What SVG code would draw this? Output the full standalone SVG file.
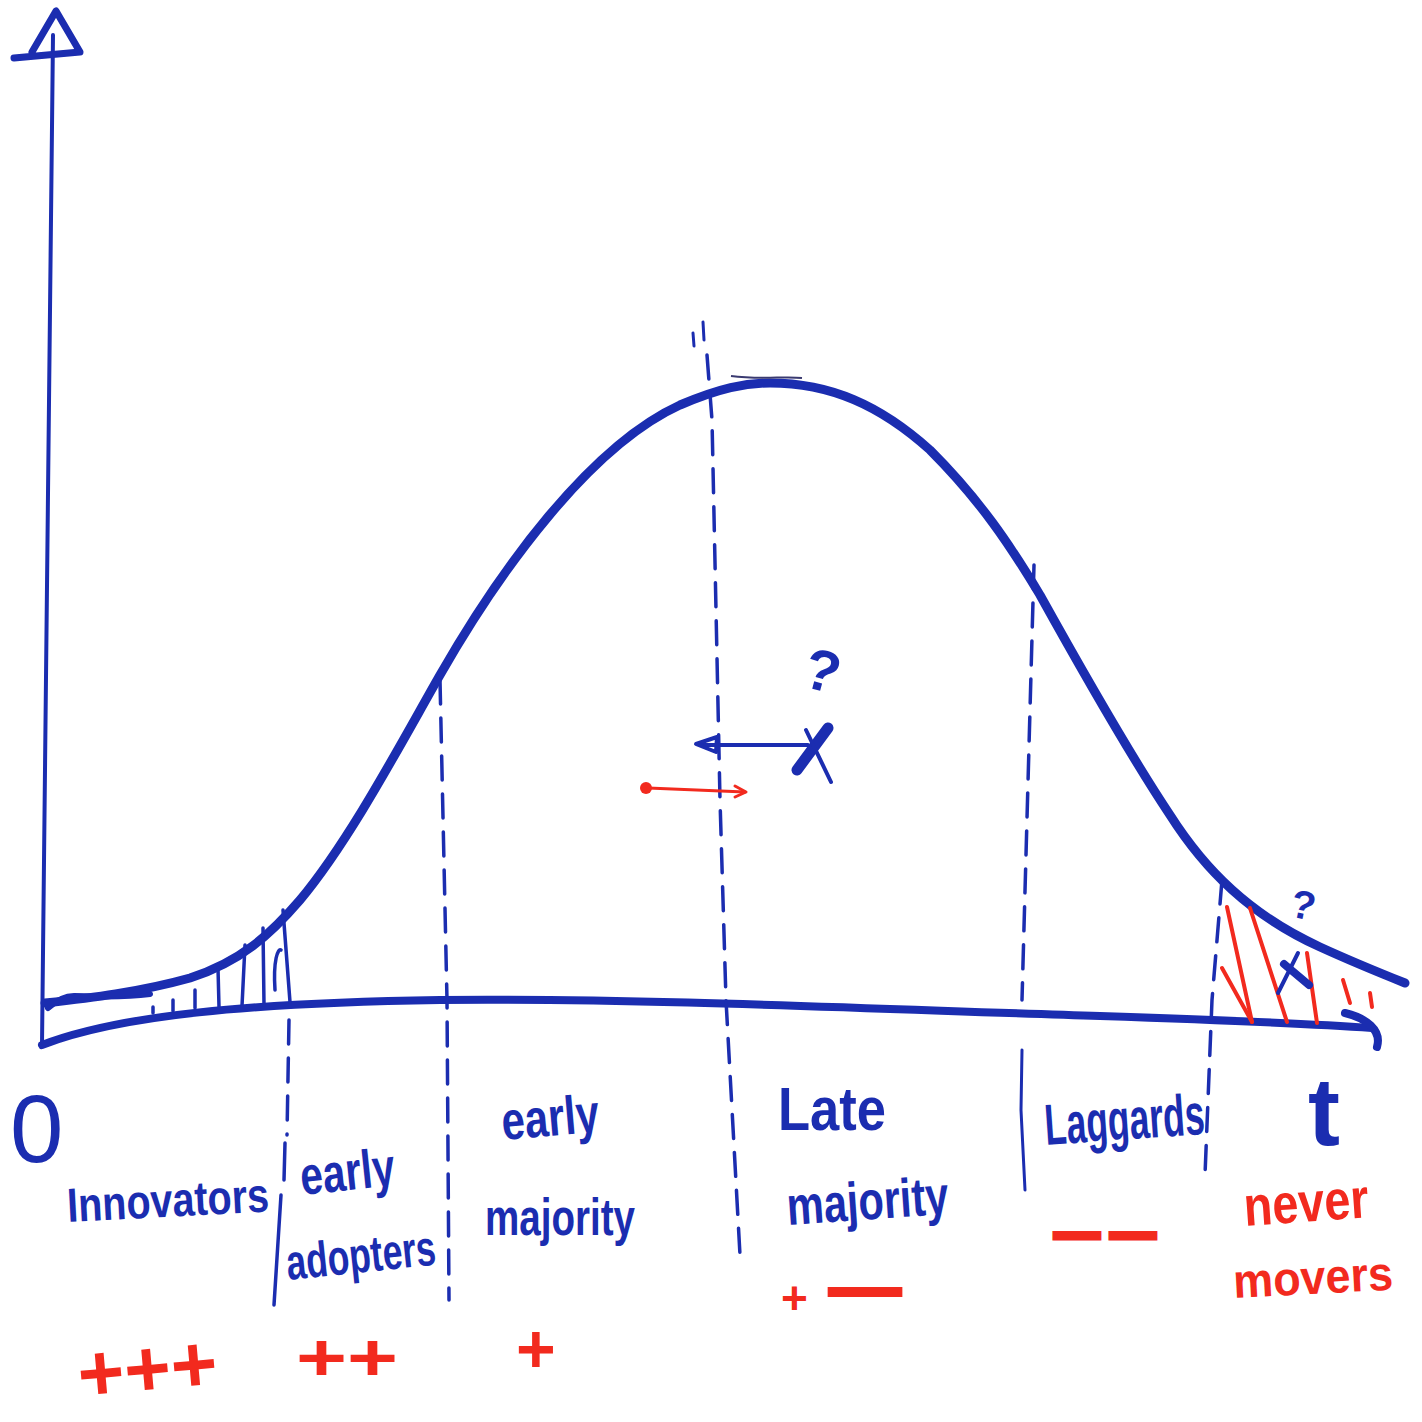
<svg xmlns="http://www.w3.org/2000/svg" width="1422" height="1422" viewBox="0 0 1422 1422">
<style>
.b{stroke:#1b2db0;fill:none;stroke-linecap:round;stroke-linejoin:round}
.r{stroke:#f22a1e;fill:none;stroke-linecap:round;stroke-linejoin:round}
.dash{stroke:#1b2db0;fill:none;stroke-width:3.5;stroke-dasharray:24 14;stroke-linecap:round}
.tb{fill:#1b2db0;font-family:"Liberation Sans",Arial,sans-serif;font-weight:bold}
.tr{fill:#f22a1e;font-family:"Liberation Sans",Arial,sans-serif;font-weight:bold}
.thin{font-weight:normal}
</style>
<rect width="1422" height="1422" fill="#ffffff"/>
<g id="axes">
<path class="b" stroke-width="4" d="M53,35 L42,1045"/>
<path class="b" stroke-width="7" d="M14,58 L80,52 L56,11 L32,52"/>
<path class="b" stroke-width="8" d="M42,1045 C120,1015 250,1003 440,1000 C650,998 900,1010 1100,1016 C1250,1021 1330,1025 1372,1028"/>
<path class="b" stroke-width="8" d="M1345,1013 C1366,1018 1382,1030 1377,1047"/>
<path class="b" stroke-width="6" d="M48,1008 C58,999 66,996 74,996 C100,996 120,998 150,994"/>
</g>
<g id="curve">
<path class="b" stroke-width="9" d="M45,1003 C90,998 140,992 190,978 C240,962 270,935 300,900 C350,840 400,745 440,675 C500,570 590,446 680,405 C720,388 745,383 770,383 C830,383 880,405 930,450 C980,500 1010,545 1040,595 C1090,685 1130,755 1170,815 C1205,870 1250,915 1320,947 C1355,963 1385,975 1405,983"/>
<path stroke="#3a3a70" stroke-width="2" fill="none" d="M731,376 C760,380 785,376 802,378"/>
</g>
<g id="hatch-left" class="b" stroke-width="3.5">
<path d="M153,1007 L153,1013"/>
<path d="M173,1000 L173,1011"/>
<path d="M195,990 L195,1008"/>
<path d="M218,968 L219,1007"/>
<path d="M245,945 L242,1006"/>
<path d="M263,928 L264,1005"/>
<path d="M283,910 L290,1002"/>
<path d="M275,990 C273,960 278,948 281,950"/>
</g>
<g id="hatch-right" class="r" stroke-width="4">
<path d="M1227,907 L1252,1022"/>
<path d="M1250,908 L1287,1022"/>
<path d="M1222,968 L1252,1022"/>
<path d="M1307,953 L1317,1023"/>
<path d="M1343,980 L1350,1003"/>
<path d="M1370,993 L1372,1007"/>
</g>
<g id="dividers">
<path class="dash" d="M289,1020 L287,1135"/>
<path class="b" stroke-width="3.5" d="M285,1143 L284,1180 M281,1195 L274,1305"/>
<path class="dash" d="M440,680 L447,1000 L449,1300"/>
<path class="dash" d="M707,355 L712,420 L720,800 L726,1000 L740,1255"/>
<path class="b" stroke-width="3" d="M693,333 L694,346 M703,322 L704,340"/>
<path class="dash" d="M1034,565 L1022,1000"/>
<path class="b" stroke-width="3" d="M1022,1050 L1021,1110 L1025,1190"/>
<path class="dash" d="M1222,880 L1212,1000 L1205,1175"/>
</g>
<g id="arrows">
<path class="b" stroke-width="4" d="M702,745 L808,745"/>
<path class="b" stroke-width="4" fill="#1b2db0" d="M696,744 L717,737 L716,752 Z"/>
<path class="b" stroke-width="11" d="M828,728 L797,770"/>
<path class="b" stroke-width="4" d="M806,730 L831,782"/>
<path class="r" stroke-width="3" d="M648,788 L745,792"/>
<circle cx="646" cy="788" r="6" fill="#f22a1e"/>
<path class="r" stroke-width="3" d="M735,786 L746,792 L735,797"/>
<path class="b" stroke-width="8" d="M1284,964 L1309,985"/>
<path class="b" stroke-width="4" d="M1298,953 L1278,993"/>
</g>
<g id="labels">
<text class="tb thin" x="10" y="1162" font-size="96">0</text>
<text class="tb" x="68" y="1222" font-size="48" textLength="202" lengthAdjust="spacingAndGlyphs" transform="rotate(-3 68 1222)">Innovators</text>
<text class="tb" x="302" y="1195" font-size="54" textLength="95" lengthAdjust="spacingAndGlyphs" transform="rotate(-6 302 1195)">early</text>
<text class="tb" x="288" y="1280" font-size="50" textLength="150" lengthAdjust="spacingAndGlyphs" transform="rotate(-6 288 1280)">adopters</text>
<text class="tb" x="503" y="1140" font-size="54" textLength="98" lengthAdjust="spacingAndGlyphs" transform="rotate(-5 503 1140)">early</text>
<text class="tb" x="485" y="1235" font-size="52" textLength="150" lengthAdjust="spacingAndGlyphs">majority</text>
<text class="tb" x="778" y="1130" font-size="62" textLength="108" lengthAdjust="spacingAndGlyphs">Late</text>
<text class="tb" x="788" y="1225" font-size="54" textLength="162" lengthAdjust="spacingAndGlyphs" transform="rotate(-4 788 1225)">majority</text>
<text class="tb" x="1046" y="1145" font-size="58" textLength="160" lengthAdjust="spacingAndGlyphs" transform="rotate(-4 1046 1145)">Laggards</text>
<text class="tb" x="1308" y="1145" font-size="96">t</text>
<text class="tb" x="805" y="690" font-size="58" transform="rotate(15 820 670)">?</text>
<text class="tb" x="1292" y="918" font-size="40" transform="rotate(12 1300 900)">?</text>
<text class="tr" x="1245" y="1226" font-size="56" textLength="125" lengthAdjust="spacingAndGlyphs" transform="rotate(-4 1245 1226)">never</text>
<text class="tr" x="1234" y="1298" font-size="48" textLength="160" lengthAdjust="spacingAndGlyphs" transform="rotate(-3 1234 1298)">movers</text>
<text class="tr" x="80" y="1402" font-size="80" textLength="140" lengthAdjust="spacingAndGlyphs" transform="rotate(-5 80 1402)">+++</text>
<text class="tr" x="296" y="1380" font-size="66" textLength="102" lengthAdjust="spacingAndGlyphs">++</text>
<text class="tr" x="516" y="1372" font-size="68">+</text>
<text class="tr" x="781" y="1314" font-size="46">+</text>
<text class="tr" x="830" y="1308" font-size="60" textLength="70" lengthAdjust="spacingAndGlyphs" stroke="#f22a1e" stroke-width="4">—</text>
<text class="tr" x="1055" y="1248" font-size="44" textLength="100" lengthAdjust="spacingAndGlyphs" stroke="#f22a1e" stroke-width="5">— —</text>
</g>
</svg>
